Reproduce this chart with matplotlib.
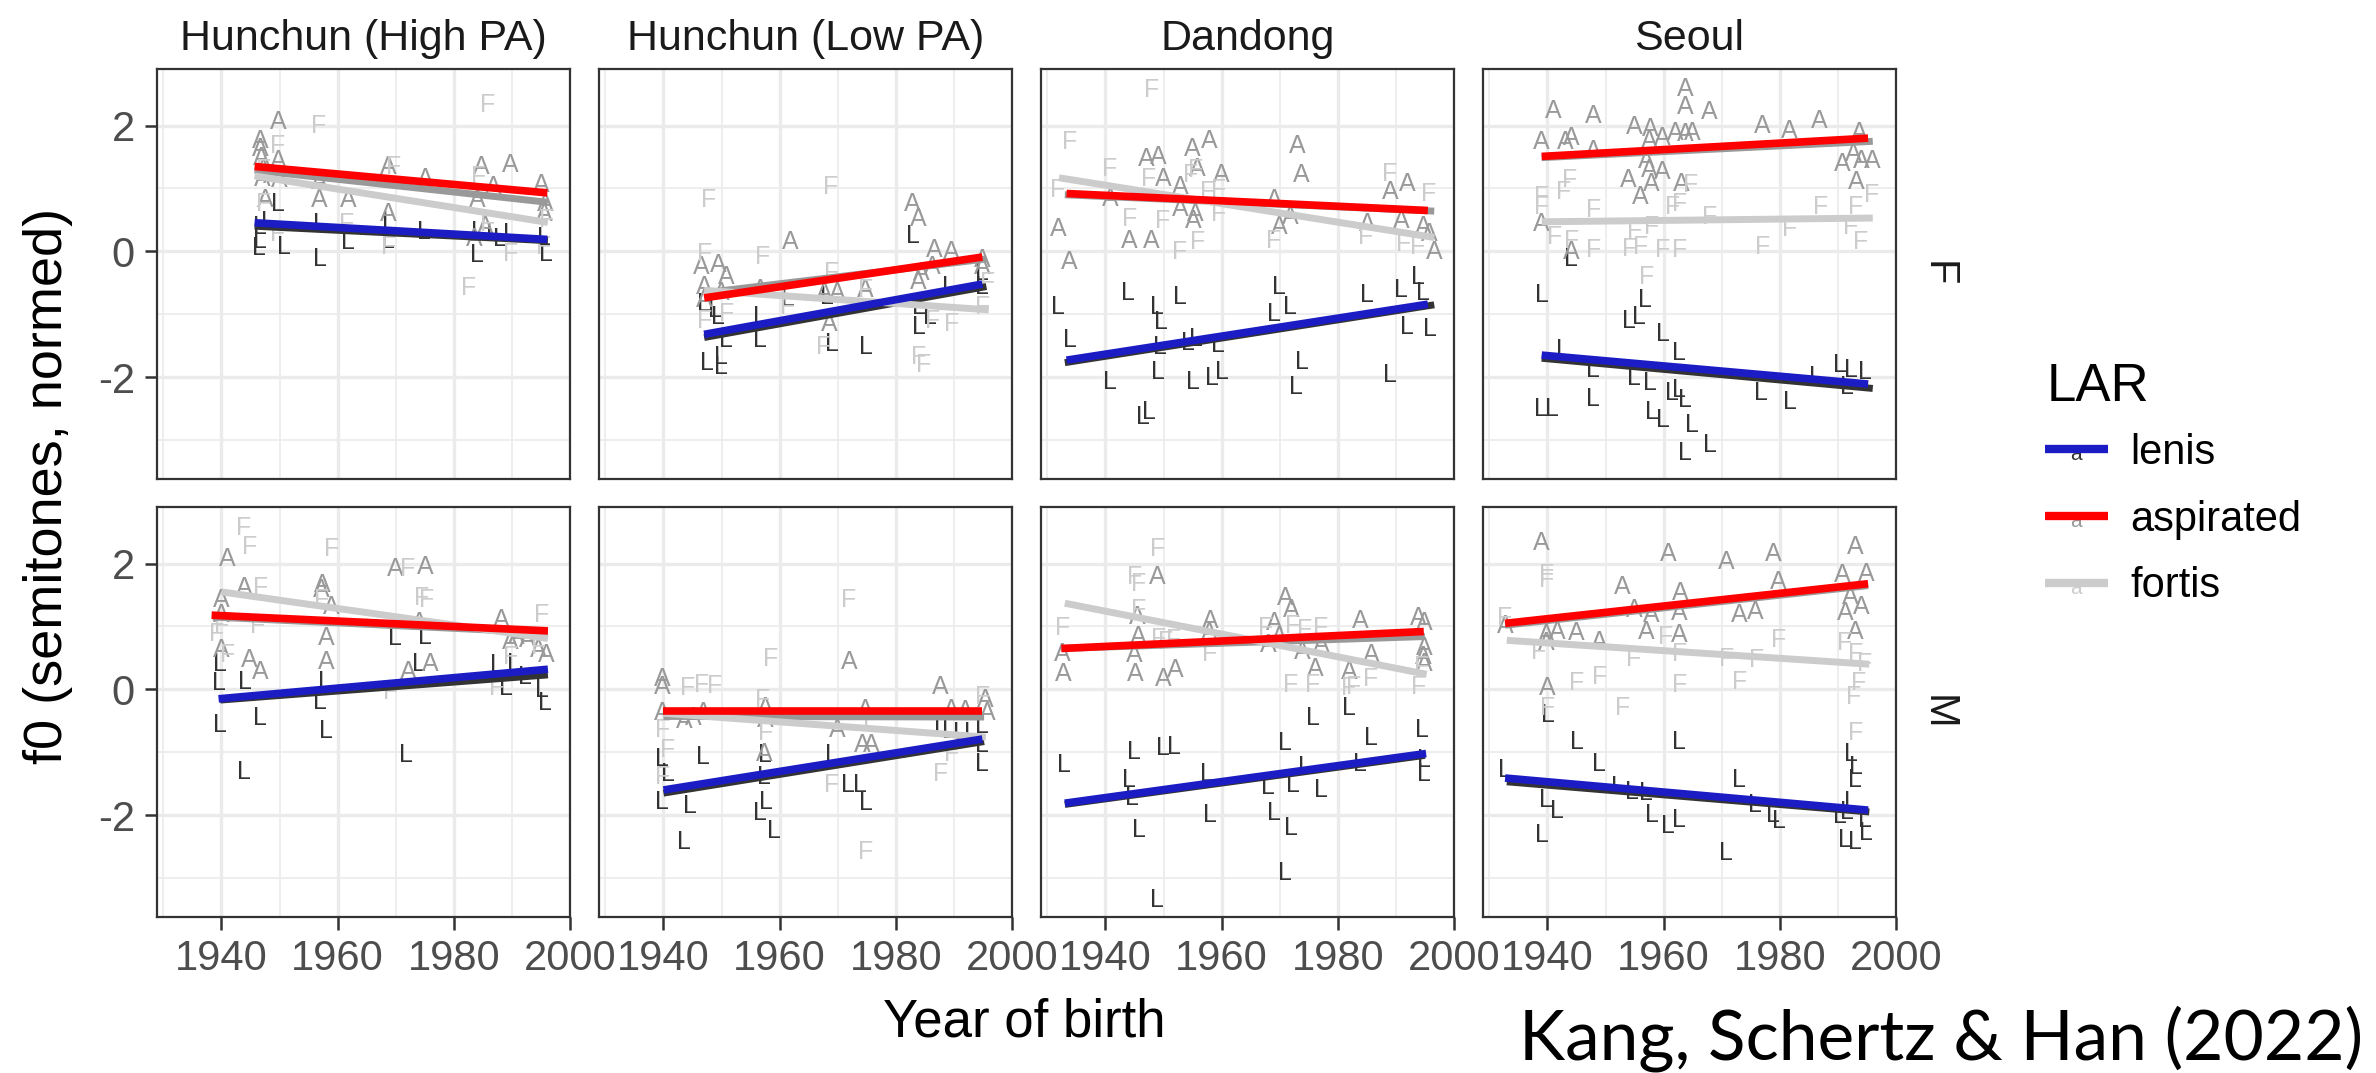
import matplotlib
matplotlib.use("Agg")
import matplotlib.pyplot as plt
from matplotlib.lines import Line2D
from matplotlib.text import Text
from matplotlib.legend_handler import HandlerBase

plt.rcParams['font.family'] = ['Liberation Sans', 'DejaVu Sans']
plt.rcParams['axes.unicode_minus'] = False

# facets
cities = ['Hunchun (High PA)', 'Hunchun (Low PA)', 'Dandong', 'Seoul']
genders = ['F', 'M']
lar_levels = ['lenis', 'aspirated', 'fortis']
lar_letters = {'lenis': 'L', 'aspirated': 'A', 'fortis': 'F'}
letter_colors = {'lenis': '#333333', 'aspirated': '#999999', 'fortis': '#cccccc'}
model_colors = {'lenis': '#1c1cc4', 'aspirated': '#ff0000'}

x_ticks = [1940, 1960, 1980, 2000]
y_ticks = [-2, 0, 2]

# ---- points: (year of birth, f0) ----
hh_f_L = [(1946.7, 0.17), (1946.5, 0.05), (1948, 0.47), (1946.7, 0.39), (1950.8, 0.07), (1949.7, 0.76),
          (1956.9, -0.12), (1956.9, 0.44), (1961.8, 0.15), (1968.7, 0.17), (1968.9, 0.47), (1974.9, 0.31),
          (1983.9, -0.06), (1984.2, 0.3), (1986.8, 0.28), (1988, 0.2), (1989.7, 0.28), (1995.9, -0.04),
          (1995.5, 0.22)]
hh_f_A = [(1949.8, 2.05), (1946.7, 1.76), (1946.7, 1.63), (1946.9, 1.48), (1949.7, 1.44), (1947.2, 1.3),
          (1947, 1.15), (1948.5, 1.2), (1950, 1.13), (1956.8, 1.1), (1956.8, 0.81), (1961.8, 0.81),
          (1968.7, 1.34), (1968.7, 0.6), (1975, 1.15), (1984.7, 1.34), (1989.7, 1.37), (1984, 0.81),
          (1986.8, 1.02), (1995, 1.05), (1995.6, 0.6), (1995.8, 0.75), (1947.6, 0.81), (1985.4, 0.39),
          (1983.5, 0.2)]
hh_f_F = [(1956.8, 2.0), (1985.9, 2.32), (1949.6, 1.68), (1982.5, -0.59), (1989.7, -0.04), (1968.7, 0.07),
          (1961.5, 0.44), (1947.2, 0.76), (1995.5, 0.07), (1969.6, 1.34), (1984.2, 1.18), (1996, 0.5),
          (1947.2, 1.29), (1985.9, 0.44), (1949.6, 0.28)]

hl_f_L = [(1947, -0.83), (1949.4, -1.04), (1947.5, -1.78), (1949.9, -1.84), (1949.9, -1.68), (1950.8, -1.41),
          (1956.6, -1.41), (1956.6, -1.04), (1961.4, -0.75), (1968.1, -0.72), (1969, -1.47), (1974.8, -1.52),
          (1982.9, 0.25), (1983.9, -0.88), (1983.9, -1.2), (1985.8, -1.04), (1989.1, -0.57), (1994.9, -0.35),
          (1994.9, -0.57), (1948.8, -0.94)]
hl_f_A = [(1946.5, -0.25), (1949.4, -0.22), (1950.8, -0.41), (1947, -0.57), (1949.9, -0.67), (1956.6, -0.62),
          (1961.8, 0.15), (1967.6, -0.67), (1970, -0.67), (1968.5, -1.15), (1974.8, -0.62), (1982.9, 0.76),
          (1983.9, 0.52), (1986.7, 0.02), (1989.6, -0.01), (1984.3, -0.35), (1983.9, -0.49), (1994.9, -0.14),
          (1994.9, -0.25), (1986.3, -0.25), (1947, -0.78)]
hl_f_F = [(1947.7, 0.81), (1968.8, 1.02), (1947, -0.04), (1957, -0.09), (1969, -0.35), (1974.8, -0.62),
          (1961.4, -0.88), (1967.6, -1.52), (1983.9, -1.68), (1984.8, -1.81), (1989.6, -1.15), (1986.3, -1.1),
          (1994.9, -0.88), (1995.8, -0.51), (1950.8, -0.99), (1947, -1.1), (1961.4, -0.7)]

dd_f_L = [(1931.9, -0.88), (1933.8, -1.41), (1943.9, -0.67), (1940.8, -2.07), (1948.9, -0.88), (1952.9, -0.72),
          (1949.6, -1.12), (1949.1, -1.92), (1955.1, -2.07), (1958.4, -2.02), (1960, -1.92), (1947.4, -2.55),
          (1946.5, -2.63), (1955.6, -1.39), (1959.4, -1.49), (1969.9, -0.57), (1971.8, -0.88), (1969, -0.99),
          (1973.9, -1.76), (1972.8, -2.15), (1985, -0.7), (1990.9, -0.62), (1989, -1.97), (1993.8, -0.41),
          (1994.7, -0.67), (1991.9, -1.2), (1995.9, -1.23), (1949.4, -1.52), (1954.2, -1.45)]
dd_f_A = [(1931.9, 0.36), (1933.8, -0.17), (1940.8, 0.84), (1944.1, 0.17), (1947.9, 0.17), (1947, 1.47),
          (1949.1, 1.5), (1950, 1.15), (1952.9, 1.02), (1955, 1.63), (1957.8, 1.76), (1955.8, 1.31),
          (1960, 1.21), (1955.1, 0.49), (1952.9, 0.68), (1969, 0.81), (1971.8, 0.54), (1969.9, 0.39),
          (1973, 1.68), (1973.7, 1.21), (1985, 0.44), (1989, 0.94), (1991.9, 1.07), (1990.9, 0.49),
          (1994.7, 0.39), (1996.6, -0.01), (1995.7, 0.28), (1955.5, 0.6)]
dd_f_F = [(1947.9, 2.56), (1933.8, 1.74), (1940.8, 1.31), (1947.4, 1.15), (1931.7, 0.97), (1944.1, 0.52),
          (1949.8, 0.49), (1955.6, 1.29), (1959.4, 0.97), (1959.4, 0.6), (1952.7, -0.01), (1955.8, 0.15),
          (1969, 0.17), (1984.7, 0.23), (1989, 1.23), (1995.7, 0.92), (1991.4, 0.12), (1993.8, 0.07),
          (1957.5, 0.94), (1954.6, 1.22)]

se_f_L = [(1939, -0.7), (1944.1, -0.12), (1956.8, -0.78), (1954.1, -1.1), (1955.8, -1.04), (1959.8, -1.31),
          (1962.7, -1.62), (1942.7, -1.57), (1947.9, -1.89), (1954.9, -2.02), (1957.7, -2.1), (1961.5, -2.26),
          (1963.6, -2.37), (1938.9, -2.5), (1940.8, -2.5), (1947.9, -2.34), (1957.9, -2.55), (1959.8, -2.68),
          (1964.8, -2.76), (1963.6, -3.21), (1967.9, -3.08), (1976.8, -2.26), (1981.7, -2.39), (1990.3, -1.81),
          (1992.2, -1.89), (1994.6, -1.92), (1986.3, -1.99), (1991.6, -2.15), (1962.7, -2.2)]
se_f_A = [(1941, 2.24), (1947.9, 2.16), (1963.8, 2.58), (1963.8, 2.29), (1967.9, 2.21), (1963.8, 1.87),
          (1954.9, 1.97), (1957.7, 1.95), (1959.8, 1.81), (1962, 1.89), (1965, 1.89), (1977, 2.0),
          (1981.7, 1.92), (1986.8, 2.08), (1993.6, 1.89), (1939, 1.74), (1943.1, 1.74), (1944.1, 1.81),
          (1947.9, 1.6), (1957, 1.44), (1957.5, 1.29), (1959.8, 1.26), (1953.9, 1.13), (1957.9, 1.07),
          (1963, 1.07), (1956, 0.86), (1939, 0.44), (1944.1, -0.01), (1990.8, 1.39), (1992.7, 1.55),
          (1994.1, 1.44), (1996, 1.44), (1993.1, 1.1), (1957.5, 1.76)]
se_f_F = [(1943.8, 1.13), (1942.7, 0.94), (1939, 0.86), (1939, 0.7), (1947.9, 0.65), (1941.2, 0.23),
          (1944.1, 0.17), (1947.9, 0.02), (1954.1, 0.04), (1956, 0.07), (1959.8, 0.02), (1962.7, 0.02),
          (1957, -0.41), (1964.6, 1.05), (1962.7, 0.76), (1967.9, 0.54), (1957.9, 0.39), (1955, 0.33),
          (1977, 0.07), (1981.7, 0.36), (1987, 0.7), (1993, 0.7), (1995.8, 0.89), (1992.2, 0.39),
          (1993.9, 0.15), (1961.5, 0.7)]

hh_m_L = [(1939.7, 0.41), (1939.5, 0.1), (1939.7, -0.57), (1944, 0.12), (1946.7, -0.46), (1943.8, -1.31),
          (1957, -0.2), (1958, -0.67), (1957.8, 0.12), (1969.9, 0.81), (1975, 0.84), (1974, 0.41),
          (1971.8, -1.04), (1987.4, 0.39), (1988.9, 0.02), (1990.3, 0.41), (1995.1, -0.01), (1995.7, -0.22),
          (1992.2, 0.2)]
hh_m_A = [(1941, 2.08), (1944, 1.61), (1940, 1.42), (1940, 1.18), (1957.4, 1.66), (1957.2, 1.58),
          (1958.9, 1.31), (1958, 0.81), (1958, 0.44), (1969.9, 1.92), (1975, 1.95), (1974, 1.05),
          (1972.1, 0.28), (1975.9, 0.41), (1944.8, 0.47), (1946.7, 0.28), (1940, 0.63), (1988.1, 1.1),
          (1989.8, 0.76), (1994.6, 0.63), (1996, 0.55), (1992.7, 0.78), (1990.8, 0.84)]
hh_m_F = [(1943.8, 2.56), (1944.8, 2.27), (1958.9, 2.24), (1972.1, 1.92), (1974.5, 1.45), (1975.3, 1.42),
          (1946.7, 1.61), (1940, 1.0), (1946.2, 1.0), (1957.2, 1.42), (1941, 0.55), (1969.2, -0.04),
          (1987.4, 0.02), (1995.1, 1.18), (1989.8, 0.52), (1994.6, 0.68), (1939.2, 0.88)]

hl_m_L = [(1939.8, -1.1), (1940.8, -1.34), (1939.8, -1.79), (1944.6, -1.86), (1943.6, -2.42), (1946.8, -1.07),
          (1957.5, -1.04), (1957.3, -1.39), (1957.7, -1.79), (1956.6, -1.97), (1959, -2.26), (1969, -1.04),
          (1971.7, -1.52), (1973.8, -1.52), (1974.8, -1.81), (1987.7, -0.59), (1989.1, -0.67), (1991.1, -0.7),
          (1993, -0.7), (1994.9, -1.18), (1994.9, -0.88), (1994.9, -0.59)]
hl_m_A = [(1939.8, 0.17), (1939.8, 0.04), (1939.8, -0.38), (1943.6, -0.51), (1946.8, -0.38), (1957.5, -0.3),
          (1957.5, -0.49), (1957.3, -1.02), (1970, -0.65), (1971.9, 0.44), (1974.3, -0.88), (1975.7, -0.88),
          (1987.7, 0.04), (1989.6, -0.33), (1992, -0.35), (1995.4, -0.17), (1995.8, -0.38), (1974.8, -0.33),
          (1945.2, -0.45)]
hl_m_F = [(1958.5, 0.49), (1971.9, 1.42), (1944.1, 0.02), (1946.5, 0.07), (1939.8, -0.65), (1940.8, -0.96),
          (1939.8, -1.39), (1957, -0.17), (1957.5, -0.7), (1975.7, -0.49), (1974.8, -2.58), (1969, -1.52),
          (1987.7, -1.34), (1989.6, -1.02), (1994.9, -0.12), (1991.1, -0.86), (1948.8, 0.05)]

dd_m_L = [(1932.8, -1.2), (1944.9, -0.99), (1949.9, -0.94), (1951.8, -0.91), (1944.1, -1.44), (1944.6, -1.73),
          (1945.7, -2.24), (1957.5, -1.34), (1958, -2.0), (1948.9, -3.35), (1970.9, -0.86), (1975.7, -0.46),
          (1981.9, -0.3), (1985.7, -0.78), (1994.4, -0.65), (1994.9, -1.12), (1994.9, -1.34), (1974.3, -1.23),
          (1972.3, -1.52), (1977.1, -1.6), (1968, -1.55), (1969, -1.97), (1971.9, -2.21), (1970.9, -2.92),
          (1983.8, -1.18)]
dd_m_A = [(1948.9, 1.79), (1932.6, 0.57), (1932.8, 0.25), (1945.5, 1.15), (1945.7, 0.84), (1944.9, 0.55),
          (1945.1, 0.25), (1949.9, 0.17), (1952, 0.31), (1958, 1.08), (1957.8, 0.89), (1968, 0.7),
          (1970.9, 1.45), (1971.9, 1.26), (1969, 1.05), (1969.9, 0.84), (1973.8, 0.6), (1976.2, 0.33),
          (1977.1, 0.7), (1983.8, 1.08), (1981.9, 0.28), (1985.7, 0.55), (1993.9, 1.13), (1994.9, 1.05),
          (1994.9, 0.65), (1994.9, 0.41), (1994.7, 0.52)]
dd_m_F = [(1948.9, 2.24), (1945.1, 1.79), (1945.7, 1.68), (1932.6, 0.97), (1945.7, 1.26), (1950.3, 0.76),
          (1951.8, 0.78), (1958, 0.57), (1967.6, 0.97), (1972.3, 1.0), (1974.3, 0.94), (1977.1, 0.97),
          (1971.9, 0.07), (1975.7, 0.07), (1981.9, 0.02), (1982.8, 0.04), (1985.7, 0.17), (1993.9, 0.04),
          (1994.4, 0.36), (1949.2, 0.8)]

se_m_L = [(1940, -0.41), (1932.7, -1.28), (1945, -0.83), (1948.9, -1.18), (1962.7, -0.83), (1952.2, -1.55),
          (1954.6, -1.63), (1957, -1.65), (1957.9, -2.0), (1960.8, -2.18), (1962.7, -2.08), (1939.8, -1.76),
          (1941.7, -1.94), (1939, -2.32), (1970.8, -2.61), (1973, -1.44), (1975.8, -1.84), (1978.9, -2.0),
          (1979.8, -2.1), (1992.2, -1.02), (1993.1, -1.23), (1993, -1.44), (1992.2, -1.79), (1990.3, -2.02),
          (1991.2, -2.39), (1993, -2.42), (1994.6, -2.08), (1994.9, -2.29), (1991.6, -1.95)]
se_m_A = [(1939, 2.32), (1960.8, 2.16), (1970.8, 2.03), (1978.9, 2.16), (1993, 2.27), (1952.9, 1.63),
          (1962.9, 1.53), (1979.8, 1.71), (1990.8, 1.82), (1994.9, 1.84), (1932.7, 1.0), (1939.8, 0.86),
          (1941.7, 0.92), (1945, 0.89), (1948.9, 0.76), (1955, 1.26), (1957.9, 1.18), (1962.7, 1.21),
          (1957, 0.92), (1962.7, 0.86), (1973, 1.18), (1975.8, 1.23), (1991.2, 1.21), (1994.1, 1.31),
          (1993, 0.92), (1940, 0.02), (1939.8, 0.73), (1992.2, 1.47)]
se_m_F = [(1939.8, 1.74), (1939.8, 1.82), (1932.7, 1.13), (1938.4, 0.6), (1945, 0.1), (1948.9, 0.2),
          (1954.9, 0.49), (1953, -0.3), (1962.7, 0.07), (1962.7, 0.57), (1970.8, 0.49), (1973, 0.12),
          (1976, 0.47), (1979.8, 0.78), (1991.2, 0.73), (1993.1, 0.57), (1994.6, 0.41), (1993.6, 0.1),
          (1992.7, -0.12), (1993, -0.7), (1940, -0.3), (1960.3, 0.84)]

# ---- fitted lines per letter group (grey) and model lines (colour): (x0, x1), (y0, y1) ----
hh_f_smooth = {'lenis': ((1945.7, 1996.2), (0.40, 0.17)), 'aspirated': ((1945.7, 1996.2), (1.29, 0.78)),
               'fortis': ((1945.7, 1996.2), (1.20, 0.46))}
hh_f_model = {'lenis': ((1945.7, 1996.1), (0.455, 0.19)), 'aspirated': ((1945.7, 1996.1), (1.35, 0.93))}
hl_f_smooth = {'lenis': ((1947, 1995.6), (-1.37, -0.56)), 'aspirated': ((1947, 1995.6), (-0.66, -0.12)),
               'fortis': ((1947, 1996), (-0.62, -0.93))}
hl_f_model = {'lenis': ((1947, 1994.9), (-1.32, -0.52)), 'aspirated': ((1947, 1994.9), (-0.74, -0.09))}
dd_f_smooth = {'lenis': ((1933, 1996.6), (-1.77, -0.85)), 'aspirated': ((1933, 1996.6), (0.90, 0.64)),
               'fortis': ((1932, 1996.6), (1.17, 0.22))}
dd_f_model = {'lenis': ((1933.3, 1995.5), (-1.73, -0.84)), 'aspirated': ((1933.3, 1995.5), (0.92, 0.65))}
se_f_smooth = {'lenis': ((1939, 1996), (-1.70, -2.18)), 'aspirated': ((1939, 1996), (1.49, 1.75)),
               'fortis': ((1939, 1996), (0.47, 0.53))}
se_f_model = {'lenis': ((1939, 1995.2), (-1.65, -2.11)), 'aspirated': ((1939, 1995.2), (1.51, 1.80))}

hh_m_smooth = {'lenis': ((1939.8, 1996.2), (-0.17, 0.23)), 'aspirated': ((1938.5, 1996.2), (1.15, 0.90)),
               'fortis': ((1940, 1996.2), (1.55, 0.81))}
hh_m_model = {'lenis': ((1939.5, 1996.2), (-0.15, 0.32)), 'aspirated': ((1938.3, 1996.2), (1.18, 0.93))}
hl_m_smooth = {'lenis': ((1940, 1995.2), (-1.65, -0.83)), 'aspirated': ((1940, 1995.2), (-0.43, -0.44)),
               'fortis': ((1940, 1995.5), (-0.38, -0.76))}
hl_m_model = {'lenis': ((1940, 1994.9), (-1.60, -0.79)), 'aspirated': ((1940, 1994.9), (-0.34, -0.34))}
dd_m_smooth = {'lenis': ((1933, 1995), (-1.83, -1.05)), 'aspirated': ((1932.4, 1995), (0.65, 0.84)),
               'fortis': ((1933, 1995.3), (1.37, 0.24))}
dd_m_model = {'lenis': ((1933, 1995.2), (-1.81, -1.02)), 'aspirated': ((1932.4, 1994.8), (0.65, 0.92))}
se_m_smooth = {'lenis': ((1933, 1995.4), (-1.47, -1.95)), 'aspirated': ((1932.7, 1995.2), (1.02, 1.65)),
               'fortis': ((1933, 1995.4), (0.78, 0.40))}
se_m_model = {'lenis': ((1932.7, 1995.2), (-1.41, -1.92)), 'aspirated': ((1932.7, 1995.2), (1.05, 1.68))}

panels = {
    ('Hunchun (High PA)', 'F'): ((hh_f_L, hh_f_A, hh_f_F), hh_f_smooth, hh_f_model),
    ('Hunchun (Low PA)', 'F'): ((hl_f_L, hl_f_A, hl_f_F), hl_f_smooth, hl_f_model),
    ('Dandong', 'F'): ((dd_f_L, dd_f_A, dd_f_F), dd_f_smooth, dd_f_model),
    ('Seoul', 'F'): ((se_f_L, se_f_A, se_f_F), se_f_smooth, se_f_model),
    ('Hunchun (High PA)', 'M'): ((hh_m_L, hh_m_A, hh_m_F), hh_m_smooth, hh_m_model),
    ('Hunchun (Low PA)', 'M'): ((hl_m_L, hl_m_A, hl_m_F), hl_m_smooth, hl_m_model),
    ('Dandong', 'M'): ((dd_m_L, dd_m_A, dd_m_F), dd_m_smooth, dd_m_model),
    ('Seoul', 'M'): ((se_m_L, se_m_A, se_m_F), se_m_smooth, se_m_model),
}


class LetterKey:
    def __init__(self, line_color, letter_color):
        self.line_color = line_color
        self.letter_color = letter_color


class LetterKeyHandler(HandlerBase):
    def create_artists(self, legend, orig_handle, xdescent, ydescent, width, height, fontsize, trans):
        y = height / 2 - ydescent
        letter = Text(width / 2 - xdescent, y - 4, 'a', color=orig_handle.letter_color, fontsize=15,
                      ha='center', va='center', transform=trans)
        line = Line2D([-xdescent, width - xdescent], [y, y], color=orig_handle.line_color, lw=6,
                      solid_capstyle='butt', transform=trans)
        return [letter, line]


fig = plt.figure(figsize=(23.76, 10.73), dpi=100)

W, H = 2376, 1073
col_left = [157, 599, 1041, 1483]
panel_w = 413
row_top = [69, 507]
panel_h = 410

for r, g in enumerate(genders):
    for c, city in enumerate(cities):
        ax = fig.add_axes([col_left[c] / W, 1 - (row_top[r] + panel_h) / H, panel_w / W, panel_h / H])
        pts, smooth, model = panels[(city, g)]
        for lar, group in zip(lar_levels, pts):
            for yr, val in group:
                ax.text(yr, val, lar_letters[lar], color=letter_colors[lar], fontsize=18,
                        ha='center', va='center', zorder=3, clip_on=True)
        for lar in lar_levels:
            xs, ys = smooth[lar]
            ax.plot(xs, ys, color=letter_colors[lar], lw=5, solid_capstyle='butt', zorder=4)
        for lar in ['lenis', 'aspirated']:
            xs, ys = model[lar]
            ax.plot(xs, ys, color=model_colors[lar], lw=5.5, solid_capstyle='butt', zorder=5)

        ax.set_xlim(1928.9, 2000)
        ax.set_ylim(-3.62, 2.9)
        ax.set_xticks(x_ticks)
        ax.set_xticks([1930, 1950, 1970, 1990], minor=True)
        ax.set_yticks(y_ticks)
        ax.set_yticks([-3, -1, 1], minor=True)
        ax.grid(which='major', color='#ebebeb', lw=2.4, zorder=0)
        ax.grid(which='minor', color='#ebebeb', lw=1.2, zorder=0)
        ax.set_axisbelow(True)
        for s in ax.spines.values():
            s.set_color('#333333')
            s.set_linewidth(1.6)
        ax.tick_params(which='major', length=9, width=1.8, color='#333333', labelsize=30,
                       labelcolor='#4d4d4d', pad=7)
        ax.tick_params(which='minor', length=0)
        if c > 0:
            ax.tick_params(axis='y', which='major', length=0, labelleft=False)
        if r == 0:
            ax.tick_params(axis='x', which='major', length=0, labelbottom=False)
            ax.set_title(city, fontsize=31, color='#1a1a1a', pad=14)
        if c == len(cities) - 1:
            ax.text(1.10, 0.5, g, transform=ax.transAxes, rotation=-90, fontsize=30,
                    color='#1a1a1a', ha='center', va='center')

fig.text(0.020, 0.547, 'f0 (semitones, normed)', rotation=90, fontsize=39, ha='center', va='center')
fig.text(0.431, 0.047, 'Year of birth', fontsize=38, ha='center', va='center')
fig.text(0.9945, 0.032, 'Kang, Schertz & Han (2022)', fontsize=50, ha='right', va='center',
         family=['Lato', 'DejaVu Sans'])

# legend: title drawn on its own so it sits where the reference puts it
fig.text(2047 / W, 1 - 387 / H, 'LAR', fontsize=38, ha='left', va='center')
keys = [LetterKey(model_colors['lenis'], letter_colors['lenis']),
        LetterKey(model_colors['aspirated'], letter_colors['aspirated']),
        LetterKey(letter_colors['fortis'], letter_colors['fortis'])]
leg = fig.legend(keys, lar_levels, loc='upper left', bbox_to_anchor=(2045 / W, 1 - 433 / H),
                 frameon=False, fontsize=30, handlelength=1.5, handletextpad=0.55,
                 labelspacing=0.64, borderpad=0, borderaxespad=0,
                 handler_map={LetterKey: LetterKeyHandler()})

fig.savefig('out.png', dpi=100)
